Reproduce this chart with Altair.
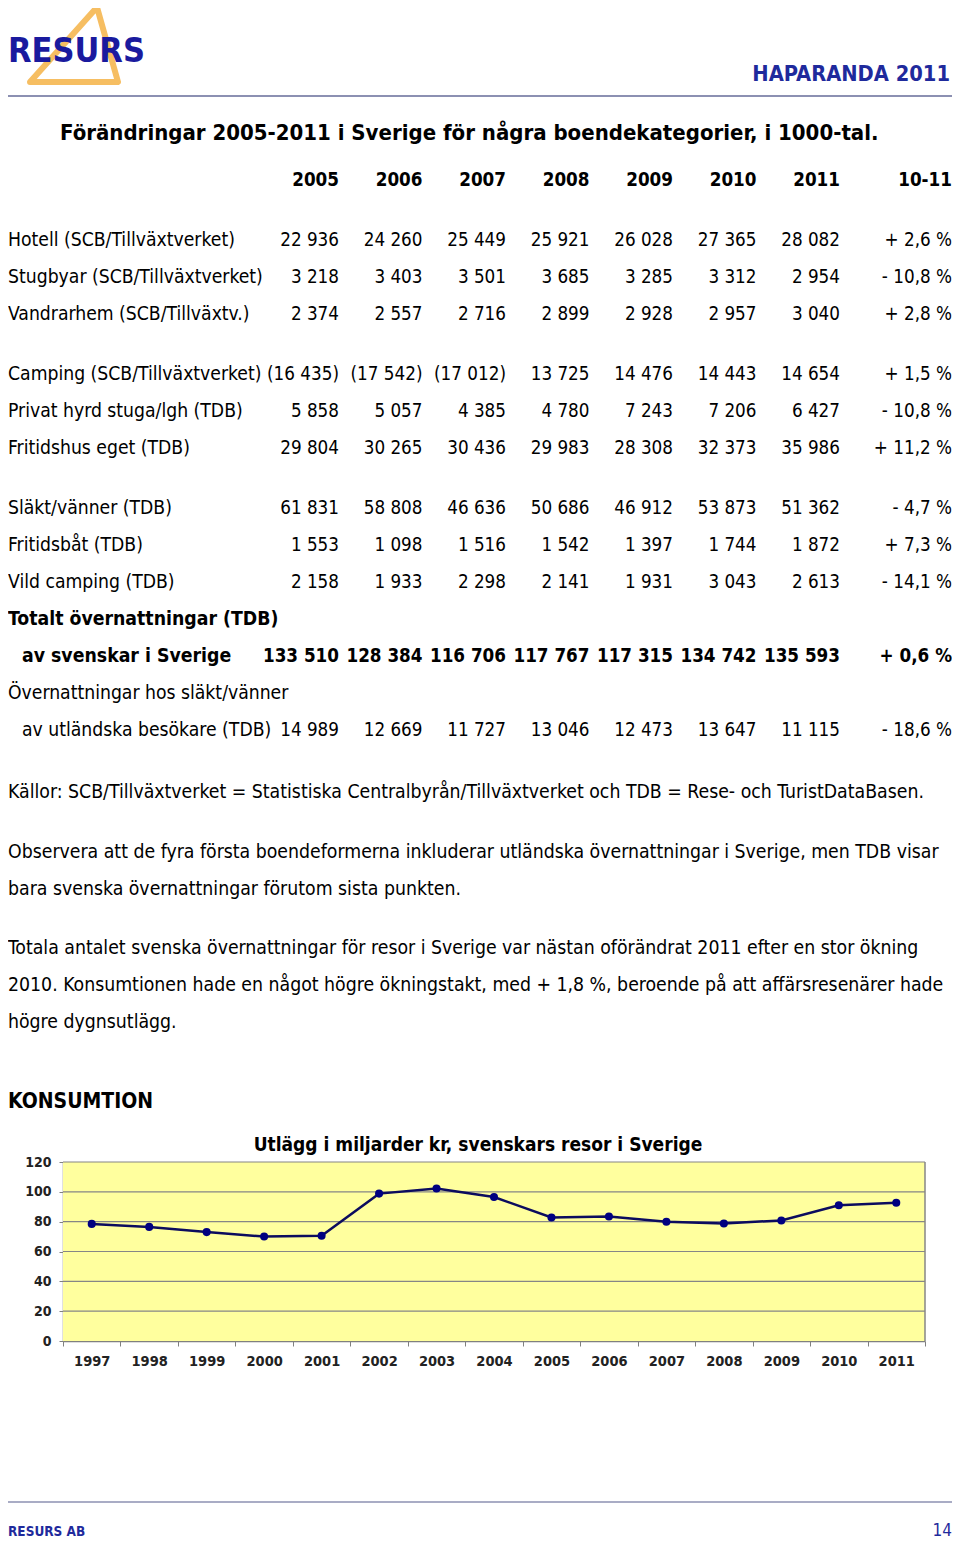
import altair as alt
import pandas as pd

# ---------------- data ----------------
row_labels = [
    "Hotell (SCB/Tillväxtverket)", "Stugbyar (SCB/Tillväxtverket)", "Vandrarhem (SCB/Tillväxtv.)",
    "Camping (SCB/Tillväxtverket)", "Privat hyrd stuga/lgh (TDB)", "Fritidshus eget (TDB)",
    "Släkt/vänner (TDB)", "Fritidsbåt (TDB)", "Vild camping (TDB)",
    "Totalt övernattningar (TDB)", "av svenskar i Sverige",
    "Övernattningar hos släkt/vänner", "av utländska besökare (TDB)",
]
row_block = [0, 0, 0, 1, 1, 1, 2, 2, 2, 2, 2, 2, 2]
row_bold = [False] * 9 + [True, True, False, False]
row_bold_values = [False] * 10 + [True, False, False]
row_indent = [False] * 10 + [True, False, True]

table_years = ["2005", "2006", "2007", "2008", "2009", "2010", "2011"]
v2005 = [22936, 3218, 2374, 16435, 5858, 29804, 61831, 1553, 2158, None, 133510, None, 14989]
v2006 = [24260, 3403, 2557, 17542, 5057, 30265, 58808, 1098, 1933, None, 128384, None, 12669]
v2007 = [25449, 3501, 2716, 17012, 4385, 30436, 46636, 1516, 2298, None, 116706, None, 11727]
v2008 = [25921, 3685, 2899, 13725, 4780, 29983, 50686, 1542, 2141, None, 117767, None, 13046]
v2009 = [26028, 3285, 2928, 14476, 7243, 28308, 46912, 1397, 1931, None, 117315, None, 12473]
v2010 = [27365, 3312, 2957, 14443, 7206, 32373, 53873, 1744, 3043, None, 134742, None, 13647]
v2011 = [28082, 2954, 3040, 14654, 6427, 35986, 51362, 1872, 2613, None, 135593, None, 11115]
# cells shown in parentheses (not comparable): Camping 2005-2007
paren_cells = [(3, "2005"), (3, "2006"), (3, "2007")]
change_10_11 = [2.6, -10.8, 2.8, 1.5, -10.8, 11.2, -4.7, 7.3, -14.1, None, 0.6, None, -18.6]

spend_years = [str(y) for y in range(1997, 2012)]
spend_values = [78.5, 76.5, 73.0, 70.0, 70.5, 98.8, 102.2, 96.5, 82.8, 83.5, 80.0, 78.8, 80.8, 91.0, 92.7]
y_ticks = [0, 20, 40, 60, 80, 100, 120]

title_text = "Förändringar 2005-2011 i Sverige för några boendekategorier, i 1000-tal."
notes = [
    "Källor: SCB/Tillväxtverket = Statistiska Centralbyrån/Tillväxtverket och TDB = Rese- och TuristDataBasen.",
    "Observera att de fyra första boendeformerna inkluderar utländska övernattningar i Sverige, men TDB visar",
    "bara svenska övernattningar förutom sista punkten.",
    "Totala antalet svenska övernattningar för resor i Sverige var nästan oförändrat 2011 efter en stor ökning",
    "2010. Konsumtionen hade en något högre ökningstakt, med + 1,8 %, beroende på att affärsresenärer hade",
    "högre dygnsutlägg.",
]
section_title = "KONSUMTION"
chart_title = "Utlägg i miljarder kr, svenskars resor i Sverige"

# ---------------- layout / style ----------------
W, H = 944, 1533
FONT = "DejaVu Sans Condensed, Liberation Sans Narrow, DejaVu Sans"
BLUE = "#1F2A9C"
note_y = [784, 844, 881, 940, 977, 1014]
ROW0, PITCH, GAP = 232, 37, 23
LABEL_SIZE, NUM_SIZE, NOTE_SIZE = 19.2, 18.7, 19.3

def fmt(v):
    return f"{v:,}".replace(",", " ")

def fmt_pct(p):
    s = f"{abs(p):.1f}".replace(".", ",")
    return ("+ " if p >= 0 else "- ") + s + " %"

def txt(text, x, y, size, weight="normal", align="left", color="#000000", font=FONT, baseline="middle"):
    return alt.Chart(pd.DataFrame({"t": [text]})).mark_text(
        align=align, baseline=baseline, fontSize=size, fontWeight=weight, color=color, font=font
    ).encode(x=alt.value(x), y=alt.value(y), text="t:N")

# ---------------- table frames ----------------
slots = [i + b * GAP / PITCH for i, b in enumerate(row_block)]
header_slot = -60 / PITCH

lab_df = pd.DataFrame({"slot": slots, "label": row_labels, "bold": row_bold, "indent": row_indent})

cols = {"2005": v2005, "2006": v2006, "2007": v2007, "2008": v2008, "2009": v2009, "2010": v2010, "2011": v2011}
cell_rows = []
for c in table_years:
    cell_rows.append({"slot": header_slot, "col": c, "text": c, "bold": True})
    for i, v in enumerate(cols[c]):
        if v is None:
            continue
        t = fmt(v)
        if (i, c) in paren_cells:
            t = "(" + t + ")"
        cell_rows.append({"slot": slots[i], "col": c, "text": t, "bold": row_bold_values[i]})
cell_df = pd.DataFrame(cell_rows)

pct_rows = [{"slot": header_slot, "text": "10-11", "bold": True}]
for i, p in enumerate(change_10_11):
    if p is None:
        continue
    pct_rows.append({"slot": slots[i], "text": fmt_pct(p), "bold": row_bold_values[i]})
pct_df = pd.DataFrame(pct_rows)

y_tab = alt.Y("slot:Q", scale=alt.Scale(domain=[0, 1], range=[ROW0, ROW0 + PITCH], nice=False, zero=False), axis=None)
x_tab = alt.X("col:N", scale=alt.Scale(type="point", domain=table_years, range=[331, 832], padding=0), axis=None)

def tmark(weight):
    return dict(align="right", baseline="middle", fontSize=NUM_SIZE, font=FONT, fontWeight=weight, color="#000000")

table_layers = []
for bold in (False, True):
    w = "bold" if bold else "normal"
    for indent in (False, True):
        table_layers.append(
            alt.Chart(lab_df).transform_filter(
                f"datum.bold == {str(bold).lower()} && datum.indent == {str(indent).lower()}"
            ).mark_text(align="left", baseline="middle", fontSize=LABEL_SIZE if not bold else 19.3, font=FONT,
                        fontWeight=w, color="#000000")
            .encode(x=alt.value(14 if indent else 0), y=y_tab, text="label:N")
        )
    table_layers.append(
        alt.Chart(cell_df).transform_filter(f"datum.bold == {str(bold).lower()}")
        .mark_text(**tmark(w)).encode(x=x_tab, y=y_tab, text="text:N")
    )
    table_layers.append(
        alt.Chart(pct_df).transform_filter(f"datum.bold == {str(bold).lower()}")
        .mark_text(**tmark(w)).encode(x=alt.value(944), y=y_tab, text="text:N")
    )
table = alt.layer(*table_layers)

# ---------------- line chart ----------------
PX0, PX1, PY0, PY1 = 55, 917, 1333, 1154
spend_df = pd.DataFrame({"yr": spend_years, "v": spend_values})
grid_df = pd.DataFrame({"g": [t for t in y_ticks if t > 0]})

y_axis = alt.Axis(values=y_ticks, offset=-PX0, labelFont=FONT, labelFontSize=14, labelFontWeight="bold",
                  labelColor="#222222", tickColor="#808080", tickSize=4, domainColor="#808080",
                  domainWidth=1.5, labelPadding=8, grid=False, title=None)
y_enc = lambda f: alt.Y(f"{f}:Q", scale=alt.Scale(domain=[0, 120], range=[PY0, PY1], nice=False), axis=y_axis)
x_enc = alt.X("yr:O", scale=alt.Scale(type="band", domain=spend_years, range=[PX0, PX1], paddingInner=0, paddingOuter=0),
              axis=alt.Axis(offset=-(H - PY0), labelAngle=0, labelFont=FONT, labelFontSize=14.5, labelFontWeight="bold",
                            labelColor="#222222", tickBand="extent", tickSize=5, tickColor="#808080",
                            domainColor="#808080", domainWidth=1.5, labelPadding=8, grid=False, title=None))

bg = alt.Chart(pd.DataFrame({"a": [0]})).mark_rect(color="#FFFF9E").encode(
    x=alt.value(PX0), x2=alt.value(PX1), y=alt.value(PY1), y2=alt.value(PY0))
grid = alt.Chart(grid_df).mark_rule(color="#868686", strokeWidth=1.2).encode(
    y=y_enc("g"), x=alt.value(PX0), x2=alt.value(PX1))
right_border = alt.Chart(pd.DataFrame({"a": [0]})).mark_rule(color="#868686", strokeWidth=1.5).encode(
    x=alt.value(PX1), y=alt.value(PY1), y2=alt.value(PY0))
line = alt.Chart(spend_df).mark_line(color="#0C0C5E", strokeWidth=2.5).encode(x=x_enc, y=y_enc("v"))
pts = alt.Chart(spend_df).mark_point(filled=True, color="#000080", size=65, opacity=1).encode(x=x_enc, y=y_enc("v"))
line_chart = alt.layer(bg, grid, right_border, line, pts)

# ---------------- page decorations ----------------
logo_tri = alt.Chart(pd.DataFrame({"a": [0]})).mark_point(
    shape="M0.575,-0.92L1.1,0.95L-1.1,0.95Z", size=6400, filled=False, stroke="#F6BE62", strokeWidth=6,
    opacity=1, strokeJoin="round").encode(x=alt.value(66), y=alt.value(36))
logo_txt = txt("RESURS", 0, 44, 34, "bold", color="#1A1A9E")
hap = txt("HAPARANDA 2011", 942, 66, 21.7, "bold", align="right", color=BLUE)
top_rule = alt.Chart(pd.DataFrame({"a": [0]})).mark_rule(color="#8C90B2", strokeWidth=2).encode(
    x=alt.value(0), x2=alt.value(W), y=alt.value(88))
title = txt(title_text, 52, 125, 22, "bold")
note_layers = [txt(n, 0, y, NOTE_SIZE) for n, y in zip(notes, note_y)]
sect = txt(section_title, 0, 1094, 21, "bold")
ctitle = txt(chart_title, 470, 1137, 19, "bold", align="center")
bot_rule = alt.Chart(pd.DataFrame({"a": [0]})).mark_rule(color="#8C90B2", strokeWidth=1.5).encode(
    x=alt.value(0), x2=alt.value(W), y=alt.value(1494))
foot_l = txt("RESURS  AB", 0, 1524, 13.5, "bold", color=BLUE)
foot_r = txt("14", 944, 1523, 17, align="right", color=BLUE)

chart = alt.layer(
    logo_tri, logo_txt, hap, top_rule, title, *note_layers, sect, ctitle, bot_rule, foot_l, foot_r,
    table, line_chart,
).resolve_scale(x="independent", y="independent").properties(
    width=W, height=H, padding=0, background="white",
    autosize=alt.AutoSizeParams(type="none"),
).configure_view(stroke=None, strokeWidth=0)

chart.save("out.html", embed_options={"renderer": "svg", "actions": False})
